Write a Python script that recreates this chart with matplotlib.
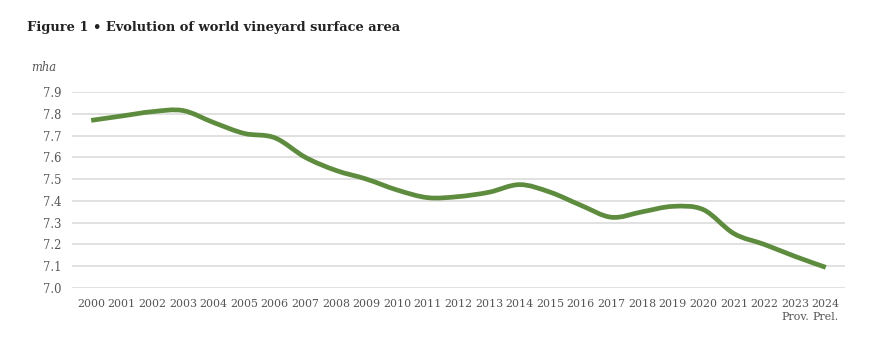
import matplotlib
matplotlib.use("Agg")
import matplotlib.pyplot as plt
from matplotlib.path import Path
from matplotlib.patches import PathPatch
import numpy as np

years = ["2000", "2001", "2002", "2003", "2004", "2005", "2006", "2007", "2008", "2009",
         "2010", "2011", "2012", "2013", "2014", "2015", "2016", "2017", "2018", "2019",
         "2020", "2021", "2022", "2023", "2024"]
surface = [7.77, 7.79, 7.81, 7.815, 7.76, 7.71, 7.69, 7.60, 7.54, 7.50,
           7.45, 7.415, 7.42, 7.44, 7.475, 7.44, 7.38, 7.325, 7.35, 7.375,
           7.36, 7.25, 7.20, 7.145, 7.095]
sub_labels = {"2023": "Prov.", "2024": "Prel."}
y_ticks = [7.0, 7.1, 7.2, 7.3, 7.4, 7.5, 7.6, 7.7, 7.8, 7.9]

serif = ["DejaVu Serif"]
fig = plt.figure(figsize=(8.7, 3.5), dpi=100)
ax = fig.add_axes([0.083, 0.177, 0.888, 0.56])

x = np.arange(len(years), dtype=float)
y = np.array(surface)

# smooth line (Catmull-Rom as cubic Bezier segments)
verts = [(x[0], y[0])]
codes = [Path.MOVETO]
n = len(x)
for i in range(n - 1):
    p0 = np.array([x[max(i - 1, 0)], y[max(i - 1, 0)]])
    p1 = np.array([x[i], y[i]])
    p2 = np.array([x[i + 1], y[i + 1]])
    p3 = np.array([x[min(i + 2, n - 1)], y[min(i + 2, n - 1)]])
    c1 = p1 + (p2 - p0) / 6.0
    c2 = p2 - (p3 - p1) / 6.0
    verts += [tuple(c1), tuple(c2), tuple(p2)]
    codes += [Path.CURVE4, Path.CURVE4, Path.CURVE4]
patch = PathPatch(Path(verts, codes), facecolor="none", edgecolor="#5e8c3e",
                  lw=3.4, capstyle="butt", joinstyle="round", zorder=3)
ax.add_patch(patch)

ax.set_xlim(-0.62, len(years) - 1 + 0.62)
ax.set_ylim(7.0, 7.9)
ax.set_yticks(y_ticks)
ax.set_yticklabels([f"{v:.1f}" for v in y_ticks], family=serif, fontsize=8.3, color="#555555")
ax.set_xticks(x)
ax.set_xticklabels(years, family=serif, fontsize=7.9, color="#555555")
ax.tick_params(length=0, pad=8)
ax.tick_params(axis="x", pad=8)
ax.grid(axis="y", color="#dcdcdc", lw=1.2)
ax.set_axisbelow(True)
for s in ax.spines.values():
    s.set_visible(False)

for i, yr in enumerate(years):
    if yr in sub_labels:
        ax.annotate(sub_labels[yr], xy=(i, 0), xycoords=("data", "axes fraction"),
                    xytext=(0, -21), textcoords="offset points", ha="center", va="center",
                    family=serif, fontsize=7.9, color="#555555")

fig.text(0.031, 0.922, "Figure 1 • Evolution of world vineyard surface area",
         family=serif, fontsize=9.4, fontweight="bold", color="#222222", va="center")
fig.text(0.036, 0.806, "mha", family=serif, fontsize=8.3, style="italic",
         color="#555555", va="center")

fig.savefig("out.png", dpi=100, facecolor="white")
